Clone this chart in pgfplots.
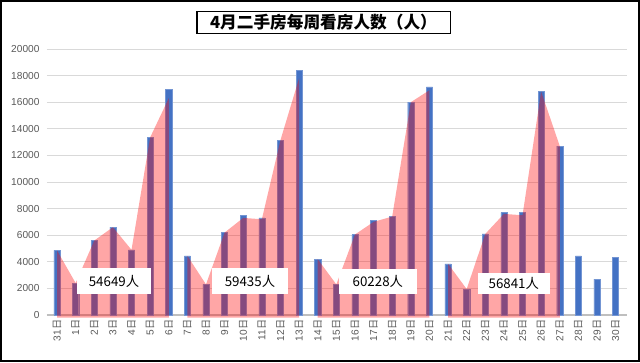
\documentclass[border=0pt]{standalone}
\usepackage{pgfplots}
\pgfplotsset{compat=1.18}
\usepackage{fontspec}
\setmainfont{Liberation Sans}
\newfontfamily\cjk{Noto Sans CJK SC}
\definecolor{barblue}{HTML}{4472C4}
\definecolor{gridgray}{HTML}{D9D9D9}
\definecolor{axisgray}{HTML}{BFBFBF}
\definecolor{ticktext}{HTML}{595959}
\begin{document}
\begin{tikzpicture}[x=0.75pt,y=0.75pt]
\useasboundingbox (0,0) rectangle (640,362);
\fill[white] (0,0) rectangle (640,362);
\draw[line width=1.5pt] (1,1) rectangle (639,361);
\begin{axis}[
  at={(35.1pt,35.25pt)}, anchor=south west, scale only axis,
  width=435pt, height=199.5pt,
  xmin=-0.55, xmax=30.6, ymin=0, ymax=20000,
  clip=false,
  axis line style={draw=none},
  ymajorgrids, grid style={gridgray, line width=0.6pt},
  ytick={0,2000,...,20000},
  scaled y ticks=false,
  /pgf/number format/.cd, 1000 sep={}, assume math mode=true, /pgfplots/.cd,
  yticklabel style={font=\fontsize{7.6}{9}\selectfont, color=ticktext, xshift=-2pt},
  xtick={0,...,30},
  xticklabels={31{\cjk 日},1{\cjk 日},2{\cjk 日},3{\cjk 日},4{\cjk 日},5{\cjk 日},6{\cjk 日},7{\cjk 日},8{\cjk 日},9{\cjk 日},10{\cjk 日},11{\cjk 日},12{\cjk 日},13{\cjk 日},14{\cjk 日},15{\cjk 日},16{\cjk 日},17{\cjk 日},18{\cjk 日},19{\cjk 日},20{\cjk 日},21{\cjk 日},22{\cjk 日},23{\cjk 日},24{\cjk 日},25{\cjk 日},26{\cjk 日},27{\cjk 日},28{\cjk 日},29{\cjk 日},30{\cjk 日}},
  xticklabel style={rotate=90, anchor=east, font=\fontsize{7.6}{9}\selectfont, color=ticktext},
  major tick length=0pt,
  tick style={draw=none},
]
\draw[axisgray, line width=0.8pt] (axis cs:-0.55,0) -- (axis cs:30.6,0);
\addplot[ybar, bar width=4.6pt, fill=barblue, draw=barblue!75!white, line width=0.3pt] coordinates {
 (0,4850) (1,2400) (2,5600) (3,6600) (4,4900) (5,13350) (6,16950)
 (7,4450) (8,2300) (9,6200) (10,7500) (11,7300) (12,13150) (13,18400)
 (14,4200) (15,2300) (16,6050) (17,7100) (18,7400) (19,16000) (20,17150)
 (21,3850) (22,1950) (23,6100) (24,7700) (25,7700) (26,16800) (27,12700)
 (28,4450) (29,2700) (30,4350)};
\addplot[fill=red, fill opacity=0.35, draw=none] coordinates {
 (0,-200) (0,4850) (1,2400) (2,5600) (3,6600) (4,4900) (5,13350) (6,16300) (6,-200)} -- cycle;
\addplot[fill=red, fill opacity=0.35, draw=none] coordinates {
 (7,-200) (7,4450) (8,2300) (9,6200) (10,7300) (11,7200) (12,13150) (13,17800) (13,-200)} -- cycle;
\addplot[fill=red, fill opacity=0.35, draw=none] coordinates {
 (14,-200) (14,4200) (15,2300) (16,6050) (17,7000) (18,7400) (19,16000) (20,16900) (20,-200)} -- cycle;
\addplot[fill=red, fill opacity=0.35, draw=none] coordinates {
 (21,-200) (21,3850) (22,1950) (23,6100) (24,7600) (25,7500) (26,16800) (27,12700) (27,-200)} -- cycle;
\node[fill=white, minimum width=56pt, minimum height=19pt, inner sep=0pt, font=\cjk\fontsize{10}{12}\selectfont] at (axis cs:3.06,2550) {54649人};
\node[fill=white, minimum width=57pt, minimum height=19pt, inner sep=0pt, font=\cjk\fontsize{10}{12}\selectfont] at (axis cs:10.36,2550) {59435人};
\node[fill=white, minimum width=59pt, minimum height=19pt, inner sep=0pt, font=\cjk\fontsize{10}{12}\selectfont] at (axis cs:17.23,2520) {60228人};
\node[fill=white, minimum width=54pt, minimum height=16pt, inner sep=0pt, font=\cjk\fontsize{10}{12}\selectfont] at (axis cs:24.53,2370) {56841人};
\end{axis}
\node[draw=black, line width=1pt, minimum width=190pt, minimum height=16.5pt, inner sep=1pt, font=\cjk\bfseries\fontsize{12.5}{14}\selectfont] at (323.5,339.5) {4月二手房每周看房人数（人）};
\end{tikzpicture}
\end{document}
